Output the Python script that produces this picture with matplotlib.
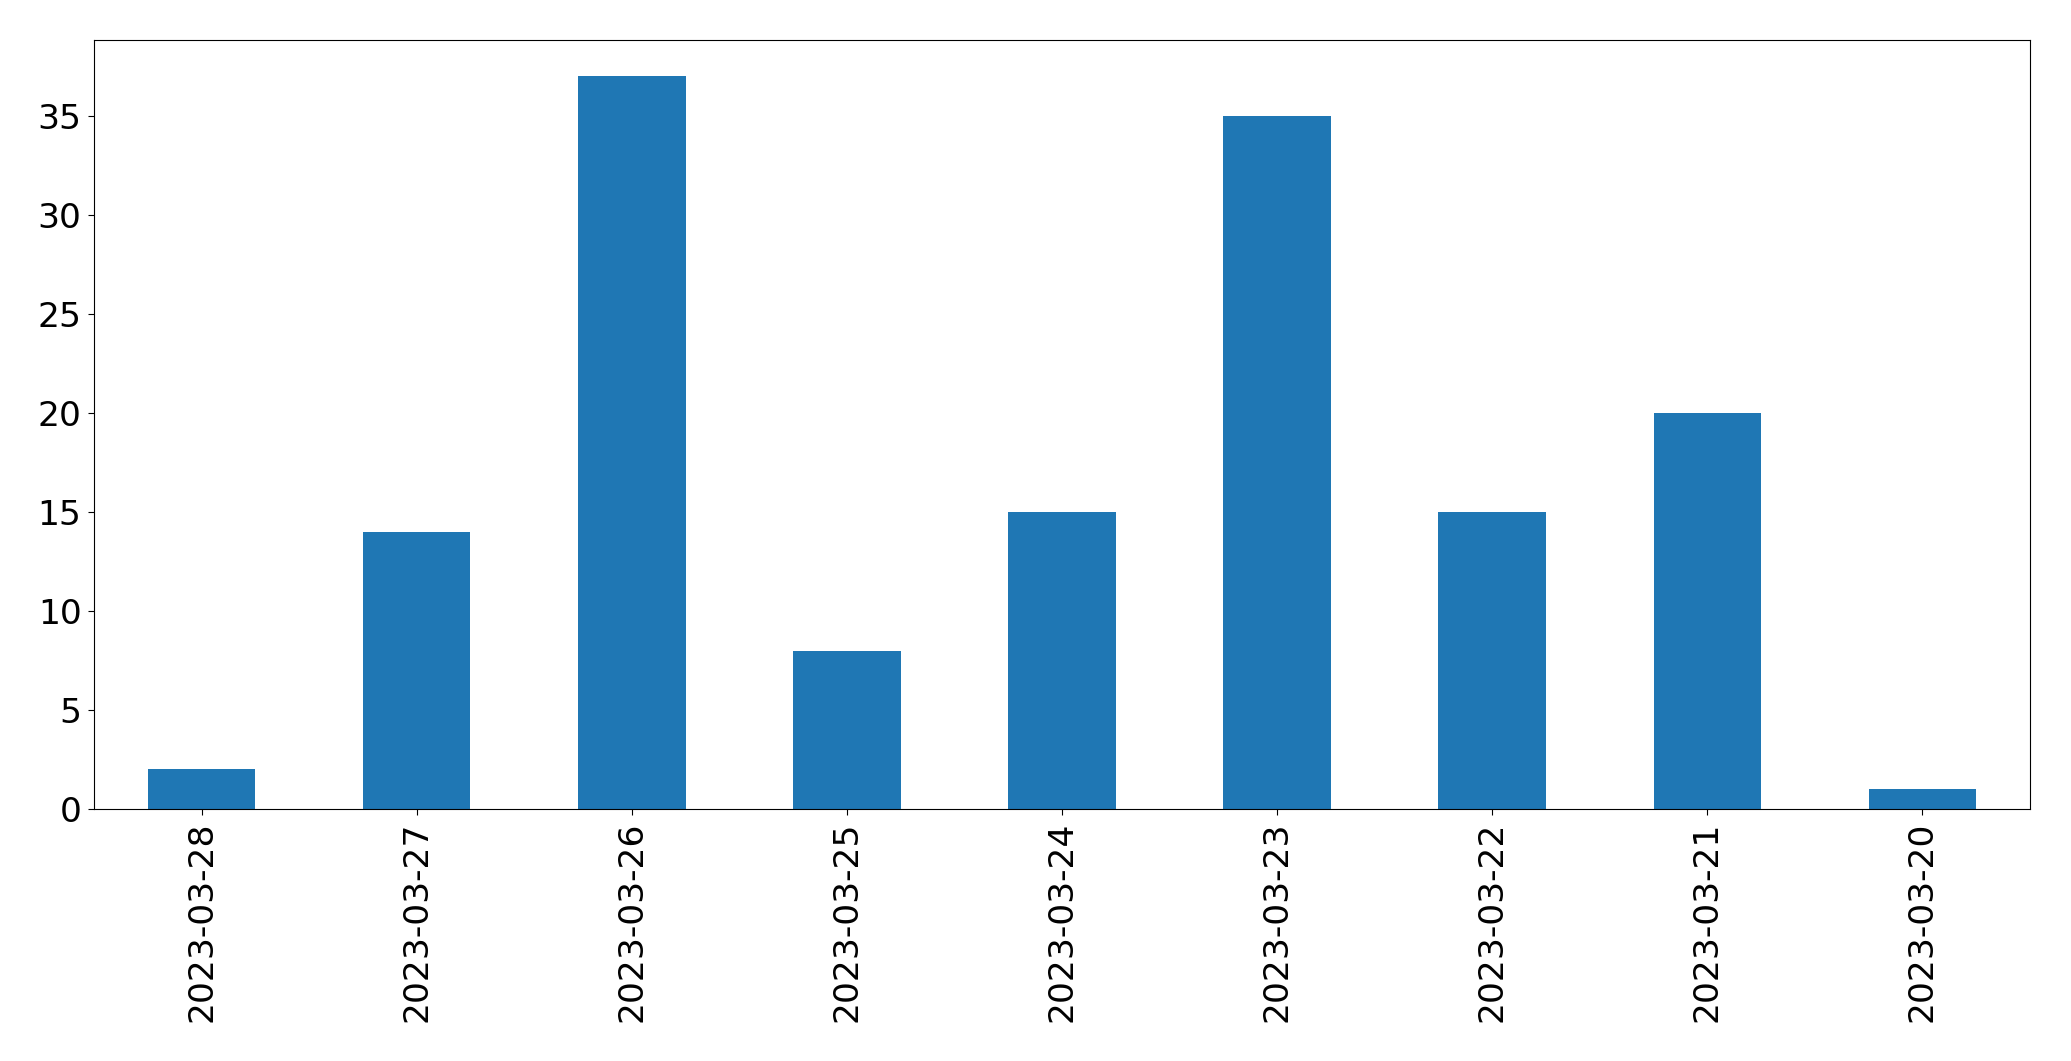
import matplotlib
matplotlib.use("Agg")
import matplotlib.pyplot as plt

dates = ["2023-03-28", "2023-03-27", "2023-03-26", "2023-03-25", "2023-03-24",
         "2023-03-23", "2023-03-22", "2023-03-21", "2023-03-20"]
counts = [2, 14, 37, 8, 15, 35, 15, 20, 1]

W, H = 2071, 1061
fig = plt.figure(figsize=(W / 100, H / 100), dpi=100)
left, right, top, bottom = 94, 2030, 39.5, 809
ax = fig.add_axes([left / W, 1 - bottom / H, (right - left) / W, (bottom - top) / H])
x = list(range(len(dates)))
ax.bar(x, counts, width=0.5, color="#1f77b4")
ax.set_xlim(-0.5, len(dates) - 0.5)
ax.set_ylim(0, 38.85)
ax.set_xticks(x)
ax.set_xticklabels(dates, rotation=90)
ax.set_yticks([0, 5, 10, 15, 20, 25, 30, 35])
ax.tick_params(labelsize=24.8, length=4.5, pad=4.5)
fig.savefig("out.png", dpi=100)
